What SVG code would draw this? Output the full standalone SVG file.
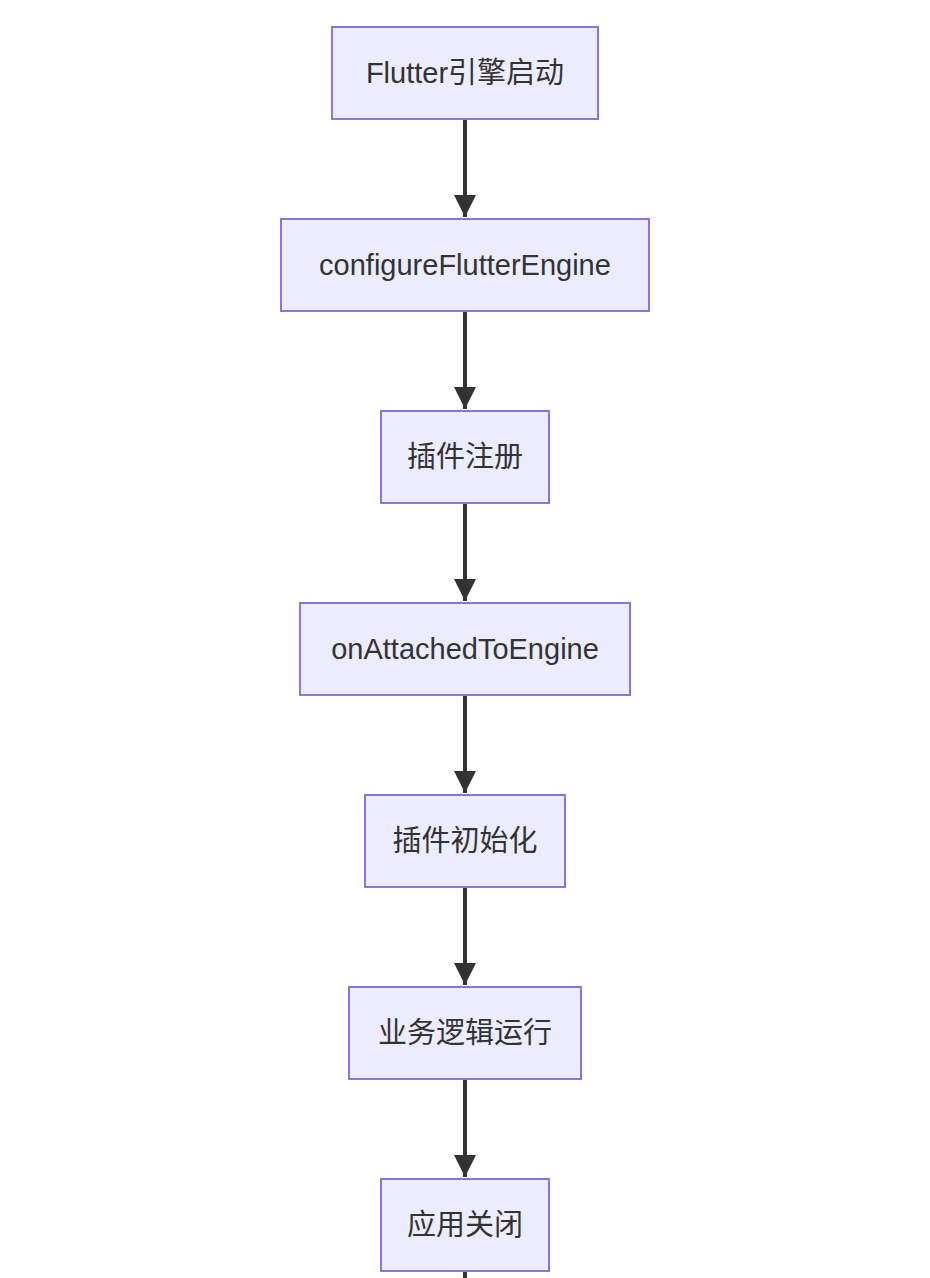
<svg xmlns="http://www.w3.org/2000/svg" width="930" height="1278" viewBox="0 0 930 1278">
<style>
.n rect{fill:#ECECFF;stroke:#9370DB;stroke-width:2}
.n text{font-family:"Liberation Sans","Noto Sans CJK SC",sans-serif;font-size:29px;fill:#333;text-anchor:middle;dominant-baseline:central}
.e path{stroke:#333;stroke-width:4;fill:none}
</style>
<defs><marker id="a" viewBox="0 0 10 10" refX="10" refY="5" markerWidth="5.5" markerHeight="5.5" orient="auto" markerUnits="strokeWidth"><path d="M0,0L10,5L0,10z" fill="#333"/></marker></defs>
<rect width="930" height="1278" fill="#fff"/>
<g class="e">
<path d="M465,120V217" marker-end="url(#a)"/>
<path d="M465,312V409" marker-end="url(#a)"/>
<path d="M465,504V601" marker-end="url(#a)"/>
<path d="M465,696V793" marker-end="url(#a)"/>
<path d="M465,888V985" marker-end="url(#a)"/>
<path d="M465,1080V1177" marker-end="url(#a)"/>
<path d="M465,1272V1278"/>
</g>
<g id="n1" class="n"><rect x="332" y="27" width="266" height="92"/><text x="465" y="73">Flutter引擎启动</text></g>
<g id="n2" class="n"><rect x="281" y="219" width="368" height="92"/><text x="465" y="265">configureFlutterEngine</text></g>
<g id="n3" class="n"><rect x="381" y="411" width="168" height="92"/><text x="465" y="457">插件注册</text></g>
<g id="n4" class="n"><rect x="300" y="603" width="330" height="92"/><text x="465" y="649">onAttachedToEngine</text></g>
<g id="n5" class="n"><rect x="365" y="795" width="200" height="92"/><text x="465" y="841">插件初始化</text></g>
<g id="n6" class="n"><rect x="349" y="987" width="232" height="92"/><text x="465" y="1033">业务逻辑运行</text></g>
<g id="n7" class="n"><rect x="381" y="1179" width="168" height="92"/><text x="465" y="1225">应用关闭</text></g>
</svg>
